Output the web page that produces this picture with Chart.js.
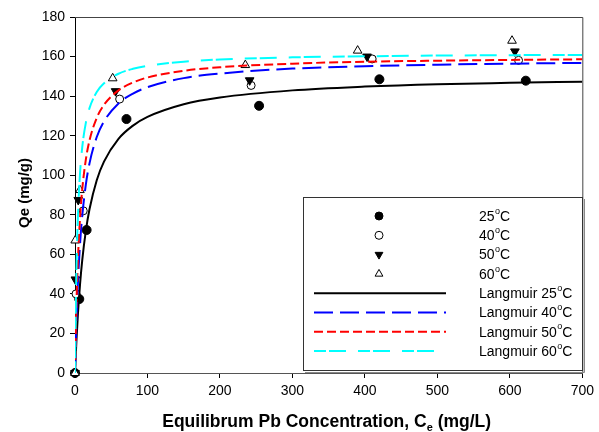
<!DOCTYPE html>
<html>
<head>
<meta charset="utf-8">
<title>Pb adsorption isotherms</title>
<script src="https://cdn.jsdelivr.net/npm/chart.js@4.4.1/dist/chart.umd.min.js"></script>
<style>
  html, body { margin: 0; padding: 0; background: #fff; }
</style>
</head>
<body>
<canvas id="isotherm" width="599" height="432"></canvas>
<script>
// Measured equilibrium data, Ce (mg/L) vs Qe (mg/g), one pair of arrays per temperature
const temps = ['25', '40', '50', '60'];
const ce25 = [0, 5.9, 16, 71, 254, 420, 622];
const qe25 = [0, 37.4, 72.3, 128.4, 135.1, 148.5, 147.8];
const ce40 = [0, 1.4, 11.4, 61.6, 243, 410, 612];
const qe40 = [0, 40, 82, 138.5, 145.4, 158.8, 158.1];
const ce50 = [0, 0.5, 4.5, 56, 241, 403, 607];
const qe50 = [0, 47.3, 87.5, 142.5, 148, 160, 162.6];
const ce60 = [0, 0.3, 6.8, 52, 235, 390, 603];
const qe60 = [0, 67, 92.5, 149, 155.7, 163, 168];

// Langmuir fitted curves, sampled along Ce
const fitCe = [0, 1, 2, 4, 7, 10, 15, 20, 30, 40, 60, 80, 100, 150, 200, 300, 400, 500, 600, 700];
const fit25 = [0, 8.7, 16.4, 29.6, 45.1, 57.1, 72.0, 82.8, 97.5, 106.9, 118.4, 125.1, 129.5, 135.9, 139.3, 142.9, 144.8, 146.0, 146.7, 147.3];
const fit40 = [0, 14.5, 26.5, 45.4, 65.5, 79.5, 95.4, 106.0, 119.3, 127.2, 136.3, 141.3, 144.5, 149.1, 151.4, 153.9, 155.1, 155.9, 156.4, 156.8];
const fit50 = [0, 19.4, 34.7, 57.0, 78.7, 92.9, 108.0, 117.6, 129.0, 135.6, 142.9, 146.9, 149.4, 152.8, 154.6, 156.4, 157.4, 157.9, 158.3, 158.6];
const fit60 = [0, 31.3, 52.5, 79.2, 101.4, 114.2, 126.6, 133.9, 142.1, 146.5, 151.3, 153.8, 155.3, 157.4, 158.5, 159.6, 160.1, 160.5, 160.7, 160.8];

// Axis ticks
const xTicks = [0, 100, 200, 300, 400, 500, 600, 700];
const yTicks = [0, 20, 40, 60, 80, 100, 120, 140, 160, 180];

const FONT = 'Liberation Sans, Arial, Helvetica, sans-serif';

function pairs(xs, ys) {
  return xs.map((x, i) => ({ x: x, y: ys[i] }));
}

// lower order is painted later (on top): curves above markers, 60 °C markers above 25 °C
function pointSet(label, xs, ys, style, rotation, radius, fill, order) {
  return {
    label: label,
    data: pairs(xs, ys),
    showLine: false,
    pointStyle: style,
    rotation: rotation,
    pointRadius: radius,
    pointBackgroundColor: fill,
    pointBorderColor: '#000',
    pointBorderWidth: 1,
    order: order,
    clip: false
  };
}

function curveSet(label, ys, color, dash, order) {
  return {
    label: label,
    data: pairs(fitCe, ys),
    showLine: true,
    borderColor: color,
    borderWidth: 2,
    borderDash: dash,
    pointRadius: 0,
    cubicInterpolationMode: 'monotone',
    order: order,
    fill: false
  };
}

const datasets = [
  pointSet(temps[0], ce25, qe25, 'circle', 0, 4.5, '#000', 13),
  pointSet(temps[1], ce40, qe40, 'circle', 0, 4, '#fff', 12),
  pointSet(temps[2], ce50, qe50, 'triangle', 180, 5, '#000', 11),
  pointSet(temps[3], ce60, qe60, 'triangle', 0, 5, '#fff', 10),
  curveSet('Langmuir ' + temps[0], fit25, '#000', [], 3),
  curveSet('Langmuir ' + temps[1], fit40, '#0000ff', [19, 7], 2),
  curveSet('Langmuir ' + temps[2], fit50, '#ff0000', [9, 4], 1),
  curveSet('Langmuir ' + temps[3], fit60, '#00ffff', [12, 3, 17, 12], 0)
];

// draws "<prefix><temp>°C" with a raised small "o"
function degreeText(ctx, prefix, temp, x, y, size) {
  ctx.font = size + 'px ' + FONT;
  const head = prefix + temp;
  ctx.fillText(head, x, y);
  let cx = x + ctx.measureText(head).width;
  ctx.font = Math.round(size * 0.62) + 'px ' + FONT;
  ctx.fillText('o', cx + 0.5, y - size * 0.42);
  cx += ctx.measureText('o').width + 0.5;
  ctx.font = size + 'px ' + FONT;
  ctx.fillText('C', cx, y);
}

const decor = {
  id: 'decor',
  afterDraw(chart) {
    const ctx = chart.ctx;
    const a = chart.chartArea;
    ctx.save();

    // frame on top and right
    ctx.strokeStyle = '#444';
    ctx.lineWidth = 1;
    ctx.beginPath();
    ctx.moveTo(a.left, a.top + 0.5);
    ctx.lineTo(a.right + 0.5, a.top + 0.5);
    ctx.lineTo(a.right + 0.5, a.bottom);
    ctx.stroke();

    // y title
    ctx.fillStyle = '#000';
    ctx.font = 'bold 15px ' + FONT;
    ctx.textAlign = 'center';
    ctx.textBaseline = 'middle';
    ctx.save();
    ctx.translate(25, (a.top + a.bottom) / 2 - 2);
    ctx.rotate(-Math.PI / 2);
    ctx.fillText('Qe (mg/g)', 0, 0);
    ctx.restore();

    // x title with subscript e
    ctx.textAlign = 'left';
    ctx.textBaseline = 'alphabetic';
    const big = 'bold 17.5px ' + FONT;
    const small = 'bold 11px ' + FONT;
    const partA = 'Equilibrum Pb Concentration, C';
    const partB = 'e';
    const partC = ' (mg/L)';
    ctx.font = big;
    const wA = ctx.measureText(partA).width;
    const wC = ctx.measureText(partC).width;
    ctx.font = small;
    const wB = ctx.measureText(partB).width;
    let tx = (a.left + a.right) / 2 - (wA + wB + wC) / 2 - 2;
    const ty = 427;
    ctx.font = big;
    ctx.fillText(partA, tx, ty);
    tx += wA;
    ctx.font = small;
    ctx.fillText(partB, tx, ty + 4);
    tx += wB;
    ctx.font = big;
    ctx.fillText(partC, tx, ty);

    // legend box
    const bx = 303, by = 197, bw = 279, bh = 173;
    ctx.strokeStyle = '#333';
    ctx.lineWidth = 1;
    ctx.strokeRect(bx + 0.5, by + 0.5, bw, bh);
    ctx.strokeStyle = '#888';
    ctx.beginPath();
    ctx.moveTo(bx + bw + 2.5, by + 2);
    ctx.lineTo(bx + bw + 2.5, by + bh + 2.5);
    ctx.lineTo(bx + 2, by + bh + 2.5);
    ctx.stroke();

    const rowY = 216, rowStep = 19.3;
    const symX = 379, textX = 479, lineX0 = 314, lineX1 = 446;
    ctx.textBaseline = 'middle';
    chart.data.datasets.forEach((ds, i) => {
      const y = rowY + i * rowStep;
      ctx.save();
      if (ds.showLine) {
        ctx.strokeStyle = ds.borderColor;
        ctx.lineWidth = ds.borderWidth;
        ctx.setLineDash(ds.borderDash);
        ctx.beginPath();
        ctx.moveTo(lineX0, y);
        ctx.lineTo(lineX1, y);
        ctx.stroke();
      } else {
        ctx.fillStyle = ds.pointBackgroundColor;
        ctx.strokeStyle = ds.pointBorderColor;
        ctx.lineWidth = 1;
        Chart.helpers.drawPoint(ctx, {
          pointStyle: ds.pointStyle,
          rotation: ds.rotation,
          radius: ds.pointStyle === 'triangle' ? 4.5 : 4,
          borderWidth: 1
        }, symX, y);
      }
      ctx.restore();
      ctx.fillStyle = '#000';
      ctx.textBaseline = 'middle';
      const prefix = ds.showLine ? 'Langmuir ' : '';
      degreeText(ctx, prefix, temps[i % 4], textX, y + 1, 14);
    });

    ctx.restore();
  }
};

new Chart(document.getElementById('isotherm'), {
  type: 'scatter',
  data: { datasets: datasets },
  options: {
    responsive: false,
    animation: false,
    layout: { padding: { top: 17, right: 13, left: 0, bottom: 0 } },
    plugins: {
      legend: { display: false },
      tooltip: { enabled: false }
    },
    scales: {
      x: {
        type: 'linear',
        min: xTicks[0],
        max: xTicks[xTicks.length - 1],
        afterFit: s => { s.height = 59; },
        afterBuildTicks: s => { s.ticks = xTicks.map(v => ({ value: v })); },
        grid: { drawOnChartArea: false, drawTicks: true, tickLength: 5, color: '#000' },
        border: { display: true, color: '#555', width: 1 },
        ticks: { color: '#000', padding: 5, font: { family: FONT, size: 14 } }
      },
      y: {
        type: 'linear',
        min: yTicks[0],
        max: yTicks[yTicks.length - 1],
        afterFit: s => { s.width = 75; },
        afterBuildTicks: s => { s.ticks = yTicks.map(v => ({ value: v })); },
        grid: { drawOnChartArea: false, drawTicks: true, tickLength: 5, color: '#000' },
        border: { display: true, color: '#000', width: 1 },
        ticks: { color: '#000', padding: 5, font: { family: FONT, size: 14 } }
      }
    }
  },
  plugins: [decor]
});
</script>
</body>
</html>
